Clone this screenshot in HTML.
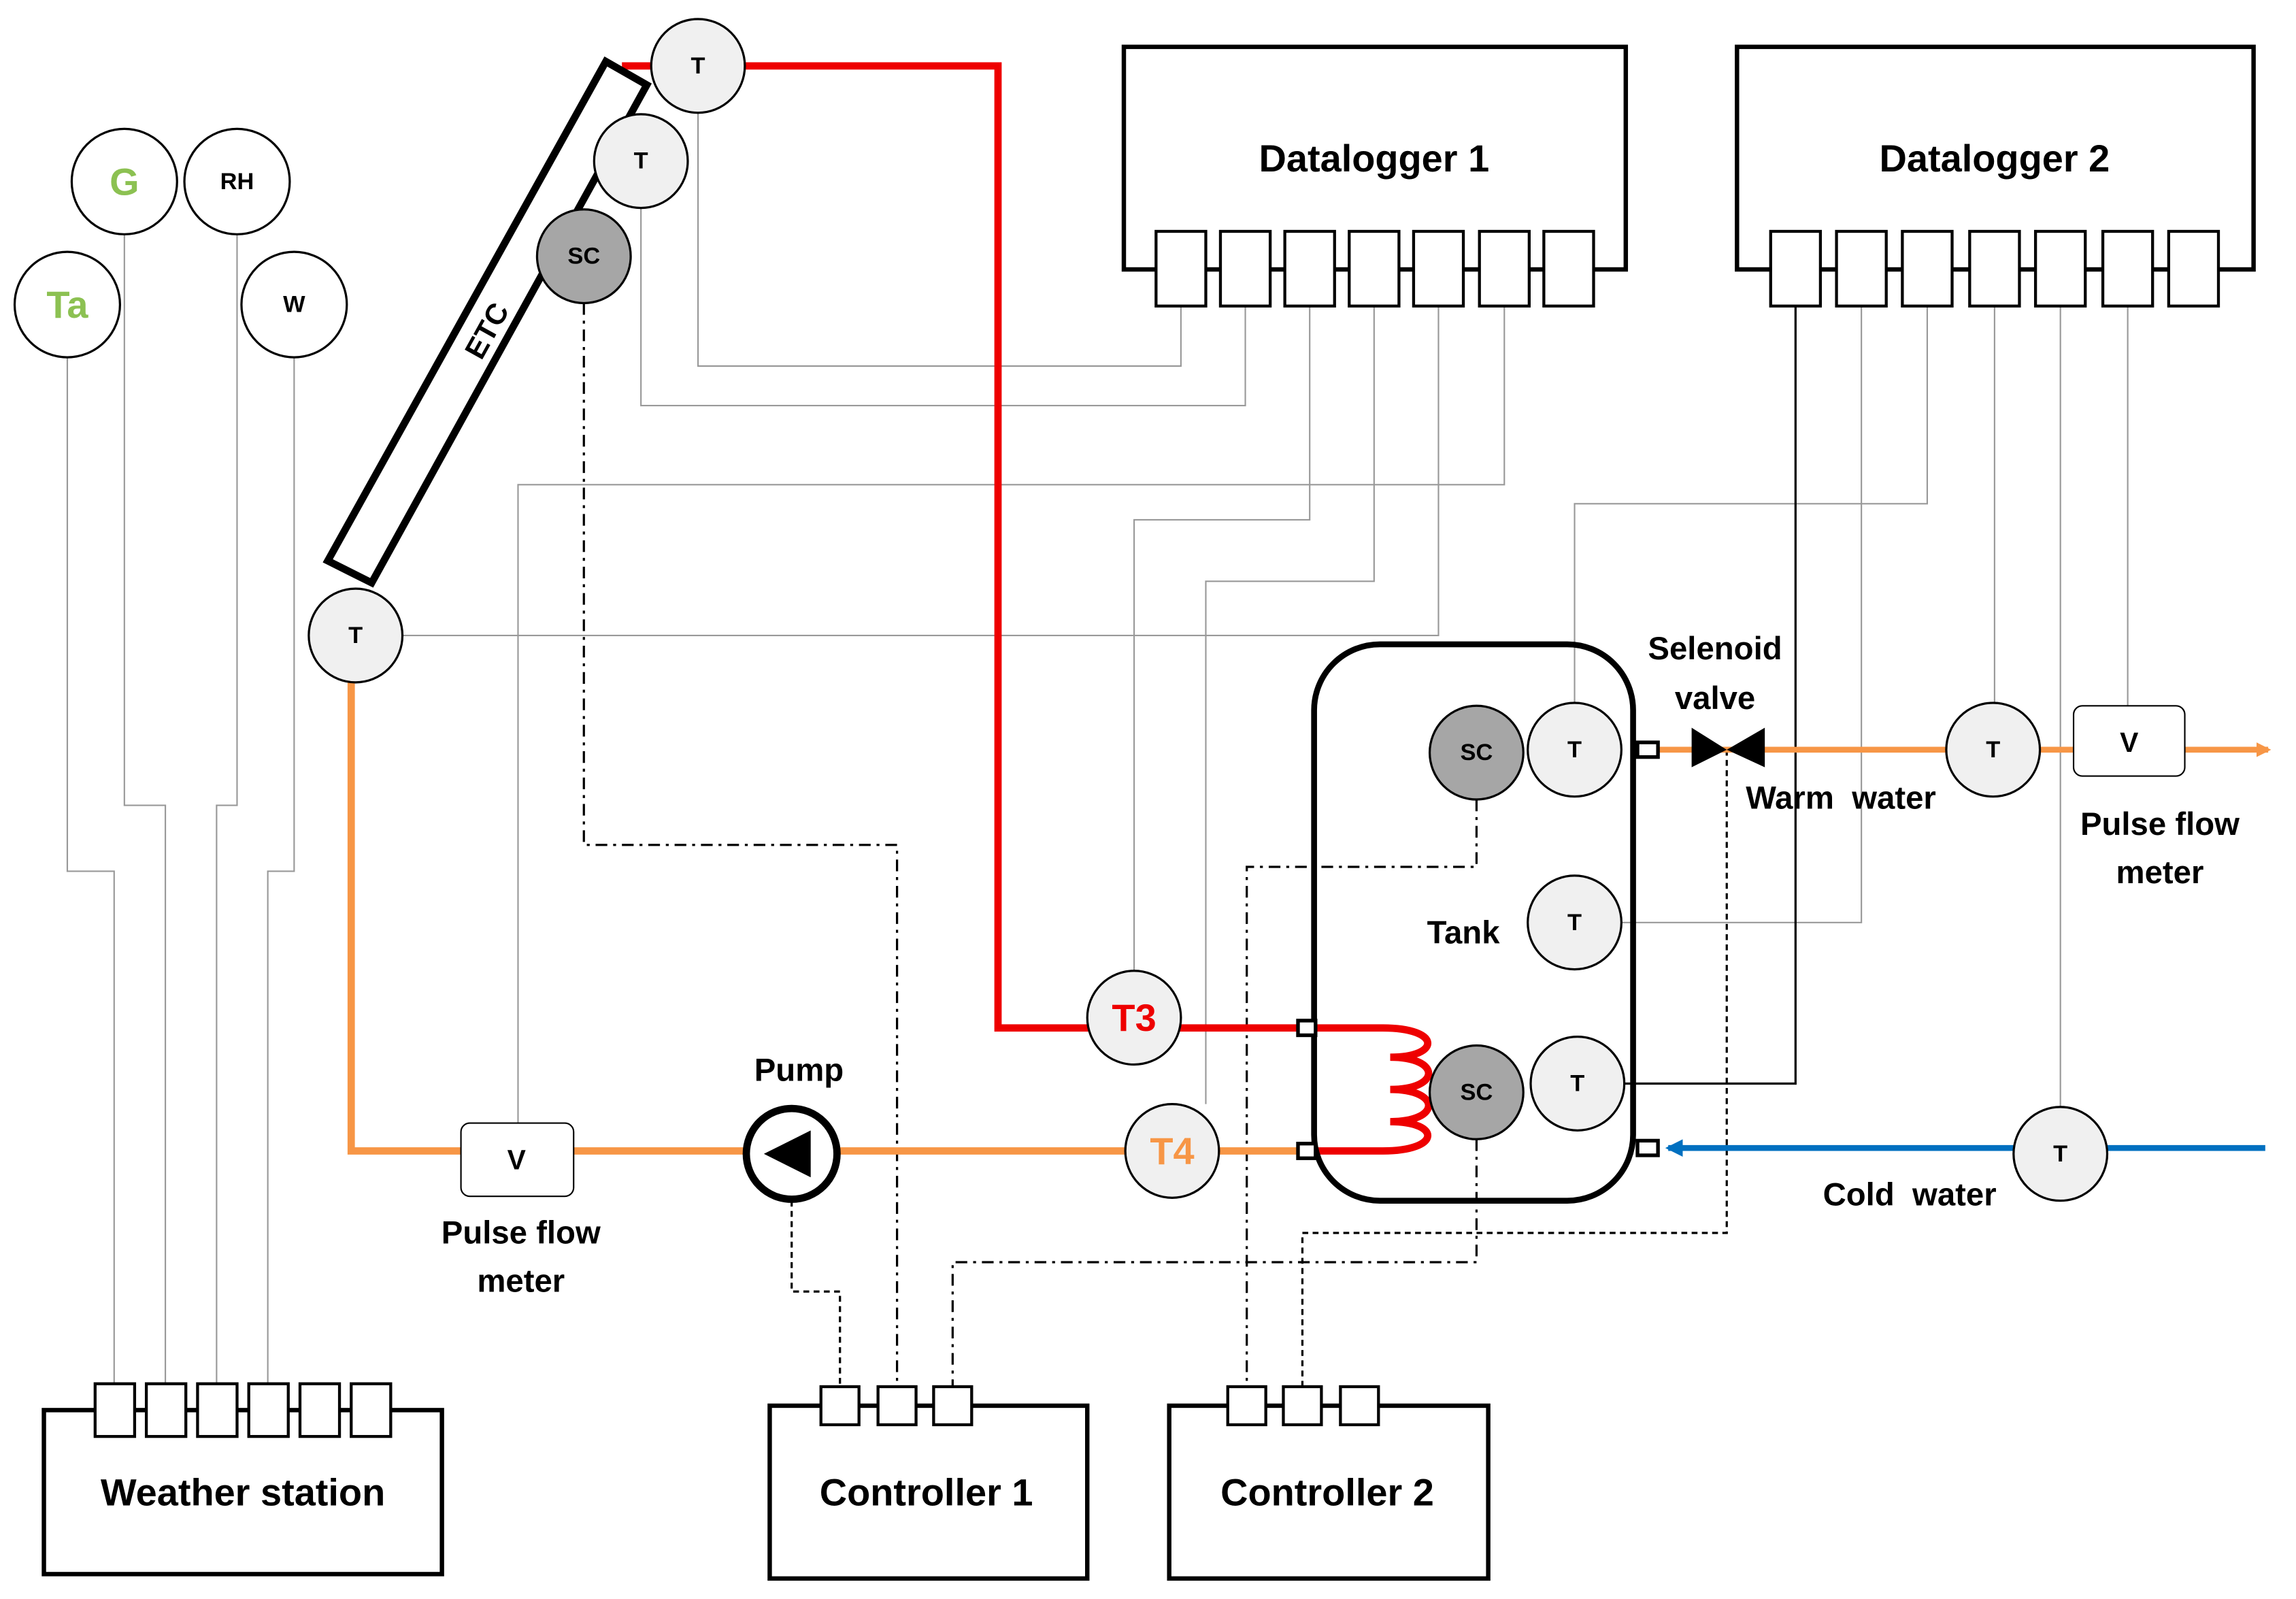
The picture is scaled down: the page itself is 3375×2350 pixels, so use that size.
<!DOCTYPE html>
<html><head><meta charset="utf-8"><style>
html,body{margin:0;padding:0;background:#fff;width:3375px;height:2350px;overflow:hidden}
svg{display:block}
text{font-family:"Liberation Sans",Arial,sans-serif;font-weight:bold;text-anchor:middle;dominant-baseline:central}
</style></head><body>
<svg width="3375" height="2350" viewBox="0 0 1569 1092" preserveAspectRatio="none" xmlns="http://www.w3.org/2000/svg">
<defs>
<marker id="ao" markerWidth="10" markerHeight="10" refX="8" refY="5" orient="auto" markerUnits="userSpaceOnUse"><path d="M0,0 L10,5 L0,10 z" fill="#f79646"/></marker>
<marker id="ab" markerWidth="12" markerHeight="12" refX="10" refY="6" orient="auto" markerUnits="userSpaceOnUse"><path d="M0,0 L12,6 L0,12 z" fill="#0070c0"/></marker>
</defs>
<g fill="none" stroke="#999" stroke-width="1">
<path d="M46,244 V595 H78 V945"/><path d="M85,160 V550 H113 V945"/><path d="M162,160 V550 H148 V945"/><path d="M201,244 V595 H183 V945"/>
<path d="M807,209 V250 H477 V77"/><path d="M851,209 V277 H438 V142"/>
<path d="M895,209 V355 H775 V663"/><path d="M939,209 V397 H824 V754"/>
<path d="M983,209 V434 H275"/><path d="M1028,209 V331 H354 V767"/>
<path d="M1272,209 V630 H1108"/><path d="M1317,209 V344 H1076 V480"/>
<path d="M1363,209 V480"/><path d="M1408,209 V756"/><path d="M1454,209 V482"/>
</g>
<path d="M1227,209 V740 H1110" fill="none" stroke="#000" stroke-width="1.5"/>
<g fill="none" stroke="#000" stroke-width="1.5" stroke-dasharray="8,4,2,4">
<path d="M399,207 V577 H613 V947"/><path d="M1009,778 V862 H651 V947"/><path d="M1009,546 V592 H852 V947"/>
</g>
<g fill="none" stroke="#000" stroke-width="1.5" stroke-dasharray="4,3">
<path d="M541,820 V882 H574 V947"/><path d="M1180,512 V842 H890 V947"/>
</g>
<path d="M425,45 H682 V702 H893" fill="none" stroke="#e00" stroke-width="5"/>
<path d="M240,466 V786 H893" fill="none" stroke="#f79646" stroke-width="5"/>
<path d="M1133,512 H1550" fill="none" stroke="#f79646" stroke-width="4" marker-end="url(#ao)"/>
<path d="M1548,784 H1140" fill="none" stroke="#0070c0" stroke-width="4" marker-end="url(#ab)"/>
<path d="M898,702 H945 C985,702 985,722 950,722 C985,722 985,744 950,744 C985,744 985,766 950,766 C985,766 985,786 945,786 H898" fill="none" stroke="#e00" stroke-width="5"/>
<rect x="898" y="440" width="218" height="380" rx="45" fill="none" stroke="#000" stroke-width="4"/>
<g fill="#fff" stroke="#000" stroke-width="2.5">
<rect x="887" y="697" width="12" height="10"/><rect x="887" y="781" width="12" height="10"/>
<rect x="1119" y="507" width="14" height="10"/><rect x="1119" y="779" width="14" height="10"/>
</g>
<path d="M1156,497 L1180,512 L1156,524 Z M1206,497 L1180,512 L1206,524 Z" fill="#000"/>
<polygon points="224,383 254,398 442,58 414,42" fill="#fff" stroke="#000" stroke-width="5"/>
<text x="333" y="226" font-size="20" transform="rotate(-61 333 226)">ETC</text>
<g stroke="#000" stroke-width="1.5">
<circle cx="85" cy="124" r="36" fill="#fff"/><circle cx="162" cy="124" r="36" fill="#fff"/>
<circle cx="46" cy="208" r="36" fill="#fff"/><circle cx="201" cy="208" r="36" fill="#fff"/>
<circle cx="477" cy="45" r="32" fill="#f0f0f0"/><circle cx="438" cy="110" r="32" fill="#f0f0f0"/>
<circle cx="399" cy="175" r="32" fill="#a6a6a6"/><circle cx="243" cy="434" r="32" fill="#f0f0f0"/>
<circle cx="775" cy="695" r="32" fill="#f0f0f0"/><circle cx="801" cy="786" r="32" fill="#f0f0f0"/>
<circle cx="1009" cy="514" r="32" fill="#a6a6a6"/><circle cx="1076" cy="512" r="32" fill="#f0f0f0"/>
<circle cx="1076" cy="630" r="32" fill="#f0f0f0"/><circle cx="1009" cy="746" r="32" fill="#a6a6a6"/>
<circle cx="1078" cy="740" r="32" fill="#f0f0f0"/><circle cx="1362" cy="512" r="32" fill="#f0f0f0"/>
<circle cx="1408" cy="788" r="32" fill="#f0f0f0"/>
</g>
<circle cx="541" cy="788" r="31" fill="#fff" stroke="#000" stroke-width="5"/>
<path d="M522,788 L554,772 L554,804 Z" fill="#000"/>
<rect x="315" y="767" width="77" height="50" rx="6" fill="#fff" stroke="#000" stroke-width="1"/>
<rect x="1417" y="482" width="76" height="48" rx="6" fill="#fff" stroke="#000" stroke-width="1"/>
<g fill="#fff" stroke="#000" stroke-width="3">
<rect x="768" y="32" width="343" height="152"/><rect x="1187" y="32" width="353" height="152"/>
<rect x="30" y="963" width="272" height="112"/><rect x="526" y="960" width="217" height="118"/><rect x="799" y="960" width="218" height="118"/>
</g>
<g fill="#fff" stroke="#000" stroke-width="2">
<rect x="790" y="158" width="34" height="51"/><rect x="834" y="158" width="34" height="51"/><rect x="878" y="158" width="34" height="51"/><rect x="922" y="158" width="34" height="51"/><rect x="966" y="158" width="34" height="51"/><rect x="1011" y="158" width="34" height="51"/><rect x="1055" y="158" width="34" height="51"/>
<rect x="1210" y="158" width="34" height="51"/><rect x="1255" y="158" width="34" height="51"/><rect x="1300" y="158" width="34" height="51"/><rect x="1346" y="158" width="34" height="51"/><rect x="1391" y="158" width="34" height="51"/><rect x="1437" y="158" width="34" height="51"/><rect x="1482" y="158" width="34" height="51"/>
<rect x="65" y="945" width="27" height="36"/><rect x="100" y="945" width="27" height="36"/><rect x="135" y="945" width="27" height="36"/><rect x="170" y="945" width="27" height="36"/><rect x="205" y="945" width="27" height="36"/><rect x="240" y="945" width="27" height="36"/>
<rect x="561" y="947" width="26" height="26"/><rect x="600" y="947" width="26" height="26"/><rect x="638" y="947" width="26" height="26"/>
<rect x="839" y="947" width="26" height="26"/><rect x="877" y="947" width="26" height="26"/><rect x="916" y="947" width="26" height="26"/>
</g>
<g font-size="16">
<text x="477" y="45">T</text><text x="438" y="110">T</text><text x="399" y="175">SC</text><text x="243" y="434">T</text>
<text x="162" y="124">RH</text><text x="201" y="208">W</text>
<text x="1009" y="514">SC</text><text x="1076" y="512">T</text><text x="1076" y="630">T</text><text x="1009" y="746">SC</text><text x="1078" y="740">T</text>
<text x="1362" y="512">T</text><text x="1408" y="788">T</text>
</g>
<text x="85" y="124" font-size="26" fill="#8cc152">G</text>
<text x="46" y="208" font-size="26" fill="#8cc152">Ta</text>
<text x="775" y="695" font-size="26" fill="#e00">T3</text>
<text x="801" y="786" font-size="26" fill="#f79646">T4</text>
<text x="353" y="792" font-size="19">V</text><text x="1455" y="507" font-size="19">V</text>
<g font-size="22">
<text x="546" y="731">Pump</text><text x="356" y="842">Pulse flow</text><text x="356" y="875">meter</text>
<text x="1172" y="443">Selenoid</text><text x="1172" y="477">valve</text>
<text x="1258" y="545" xml:space="preserve">Warm  water</text>
<text x="1476" y="563">Pulse flow</text><text x="1476" y="596">meter</text>
<text x="1305" y="816" xml:space="preserve">Cold  water</text>
<text x="1000" y="637">Tank</text>
</g>
<g font-size="26">
<text x="939" y="108">Datalogger 1</text><text x="1363" y="108">Datalogger 2</text>
<text x="166" y="1019">Weather station</text><text x="633" y="1019">Controller 1</text><text x="907" y="1019">Controller 2</text>
</g>
</svg>
</body></html>
